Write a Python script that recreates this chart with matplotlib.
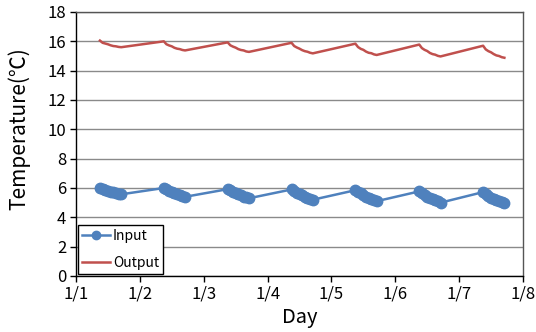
import matplotlib
matplotlib.use("Agg")
import matplotlib.pyplot as plt
import numpy as np

plt.rcParams['font.family'] = ['Noto Sans CJK KR', 'DejaVu Sans']

# Sampling hours within each day (9:00 .. 17:00)
hours = [9, 10, 11, 12, 13, 14, 15, 16, 17]
days = [1, 2, 3, 4, 5, 6, 7]

input_vals = [
    [6.02, 5.95, 5.89, 5.82, 5.76, 5.71, 5.66, 5.62, 5.57],
    [6.00, 5.91, 5.82, 5.73, 5.65, 5.58, 5.52, 5.46, 5.40],
    [5.92, 5.83, 5.73, 5.64, 5.56, 5.49, 5.42, 5.36, 5.30],
    [5.90, 5.80, 5.69, 5.59, 5.49, 5.41, 5.34, 5.27, 5.20],
    [5.85, 5.74, 5.63, 5.51, 5.42, 5.33, 5.25, 5.18, 5.10],
    [5.77, 5.65, 5.54, 5.42, 5.32, 5.23, 5.15, 5.08, 5.00],
    [5.72, 5.58, 5.45, 5.34, 5.25, 5.17, 5.10, 5.05, 5.00],
]
output_vals = [
    [16.05, 15.90, 15.85, 15.80, 15.73, 15.68, 15.66, 15.62, 15.60],
    [16.00, 15.80, 15.72, 15.66, 15.56, 15.50, 15.47, 15.41, 15.38],
    [15.93, 15.73, 15.64, 15.57, 15.47, 15.41, 15.38, 15.31, 15.28],
    [15.90, 15.68, 15.58, 15.50, 15.40, 15.33, 15.29, 15.22, 15.18],
    [15.84, 15.61, 15.49, 15.42, 15.30, 15.22, 15.19, 15.11, 15.07],
    [15.78, 15.54, 15.42, 15.34, 15.21, 15.13, 15.09, 15.01, 14.97],
    [15.70, 15.45, 15.33, 15.25, 15.13, 15.04, 15.00, 14.92, 14.88],
]
x_tick_labels = ['1/1', '1/2', '1/3', '1/4', '1/5', '1/6', '1/7', '1/8']
y_ticks = [0, 2, 4, 6, 8, 10, 12, 14, 16, 18]

x = np.array([(d - 1) + h / 24.0 for d in days for h in hours])
inp = np.array(input_vals).ravel()
out = np.array(output_vals).ravel()

fig = plt.figure(figsize=(5.36, 3.32), dpi=100)
ax = fig.add_axes([76/536, 1 - 276/332, (523 - 76)/536, (276 - 12)/332])

ax.set_ylim(0, 18)
ax.set_xlim(0, 7)
ax.set_yticks(y_ticks)
ax.set_xticks(range(len(x_tick_labels)))
ax.set_xticklabels(x_tick_labels)
ax.yaxis.grid(True, color='#8a8a8a', linewidth=1.0)
ax.set_axisbelow(True)

ax.plot(x, inp, color='#4F81BD', marker='o', markersize=7.5, linewidth=1.8,
        label='Input', zorder=3)
ax.plot(x, out, color='#C0504D', linewidth=1.8, label='Output', zorder=3)

for s in ['left', 'bottom']:
    ax.spines[s].set_color('black')
    ax.spines[s].set_linewidth(1.0)
for s in ['top', 'right']:
    ax.spines[s].set_color('#555555')
    ax.spines[s].set_linewidth(1.0)

ax.tick_params(axis='both', direction='out', length=4, width=1, labelsize=12,
               colors='black', pad=3)
ax.set_xlabel('Day', fontsize=14.5, labelpad=3)
ax.set_ylabel('Temperature(℃)', fontsize=15, va='center', ha='center')
ax.yaxis.set_label_coords(-0.127, 0.56)

leg = ax.legend(loc='lower left', fontsize=10, frameon=True, fancybox=False,
                edgecolor='black', framealpha=1, borderaxespad=0.15,
                handlelength=2.0, handletextpad=0.2, borderpad=0.3,
                labelspacing=0.9, markerscale=0.8)
leg.get_frame().set_linewidth(1.0)

fig.savefig('out.png', dpi=100)
